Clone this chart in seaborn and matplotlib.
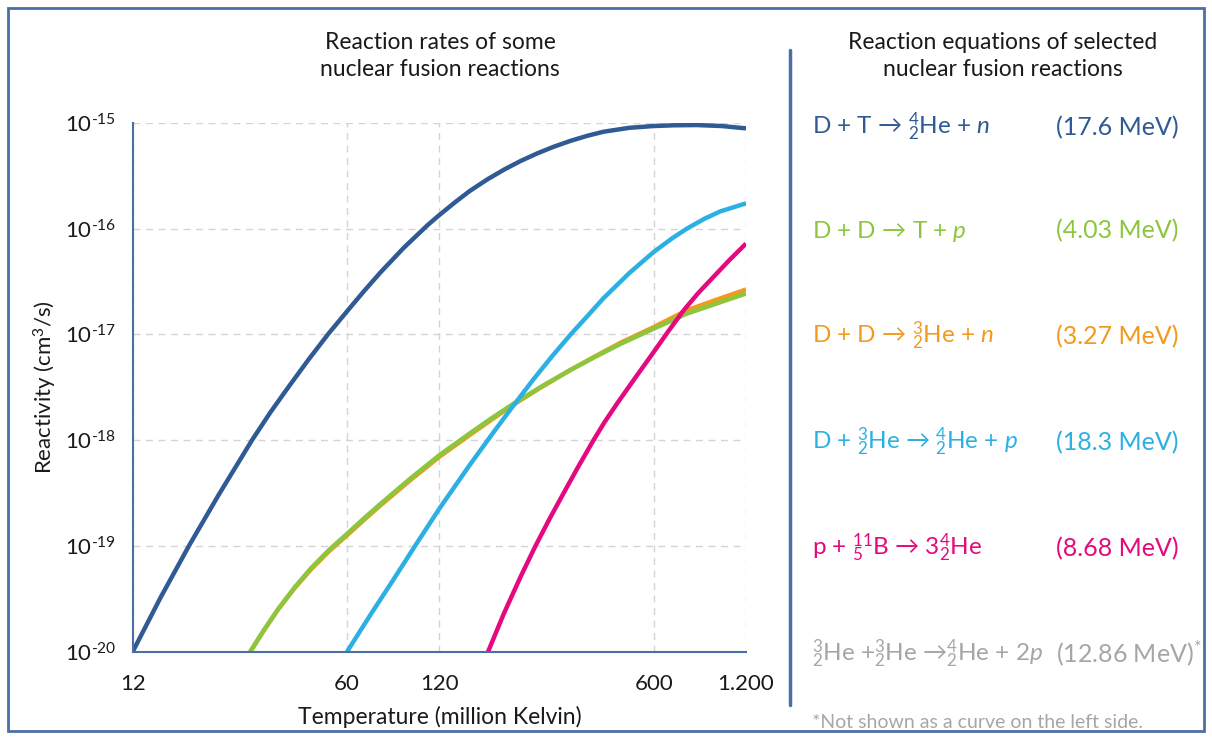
import matplotlib
matplotlib.use("Agg")
import numpy as np
import pandas as pd
import matplotlib.pyplot as plt
import seaborn as sns
from matplotlib.patches import Rectangle
from matplotlib.lines import Line2D

# Curve values (temperature in million K, reactivity in cm^3/s)
dt_temp = [12, 14.8, 18.3, 22.9, 29.4, 33.7, 38.6, 45, 52, 60, 68, 77.2, 92, 110, 120, 135, 151,
           172, 195, 221, 250, 283, 321, 364, 412, 500, 600, 700, 831, 1000, 1200]
dt_rate = [1e-20, 3.26e-20, 1e-19, 3.05e-19, 1e-18, 1.82e-18, 3.16e-18, 5.8e-18, 1e-17, 1.65e-17,
           2.54e-17, 3.86e-17, 6.6e-17, 1.08e-16, 1.34e-16, 1.77e-16, 2.27e-16, 2.91e-16, 3.6e-16,
           4.35e-16, 5.12e-16, 5.92e-16, 6.73e-16, 7.51e-16, 8.22e-16, 8.95e-16, 9.3e-16, 9.45e-16,
           9.5e-16, 9.3e-16, 8.84e-16]

ddp_temp = [29.0, 32, 35.8, 40.5, 45.9, 52.5, 60, 68, 77.2, 96.5, 120, 151, 176, 205, 256, 321,
            387, 467, 600, 771, 960, 1200]
ddp_rate = [1e-20, 1.57e-20, 2.54e-20, 4.06e-20, 6.2e-20, 9.2e-20, 1.3e-19, 1.81e-19, 2.5e-19,
            4.33e-19, 7.2e-19, 1.16e-18, 1.58e-18, 2.12e-18, 3.16e-18, 4.6e-18, 6.13e-18, 8.1e-18,
            1.13e-17, 1.57e-17, 1.95e-17, 2.43e-17]

ddn_temp = [29.0, 32, 35.8, 40.5, 45.9, 52.5, 60, 68, 77.2, 96.5, 120, 151, 176, 205, 256, 321,
            387, 467, 600, 771, 960, 1200]
ddn_rate = [1e-20, 1.56e-20, 2.52e-20, 4.0e-20, 6.05e-20, 8.95e-20, 1.26e-19, 1.75e-19, 2.42e-19,
            4.18e-19, 6.95e-19, 1.12e-18, 1.53e-18, 2.08e-18, 3.12e-18, 4.6e-18, 6.2e-18, 8.3e-18,
            1.17e-17, 1.69e-17, 2.12e-17, 2.65e-17]

dhe_temp = [60, 72, 85, 100, 120, 150, 178, 205, 243, 280, 321, 365, 412, 500, 600, 690, 771, 880,
            989, 1200]
dhe_rate = [1e-20, 2.3e-20, 4.8e-20, 1.0e-19, 2.25e-19, 5.7e-19, 1.13e-18, 1.96e-18, 3.74e-18,
            6.22e-18, 9.9e-18, 1.49e-17, 2.2e-17, 3.8e-17, 6.0e-17, 8.1e-17, 1e-16, 1.24e-16,
            1.45e-16, 1.73e-16]

pb_temp = [173, 195, 221, 247, 275, 305, 340, 382, 415, 456, 523, 600, 670, 752, 840, 941, 1060, 1200]
pb_rate = [1e-20, 2.31e-20, 5.13e-20, 1e-19, 1.82e-19, 3.15e-19, 5.56e-19, 1e-18, 1.48e-18,
           2.22e-18, 3.9e-18, 6.8e-18, 1.07e-17, 1.69e-17, 2.47e-17, 3.5e-17, 5.04e-17, 7.2e-17]

x_ticks = [12, 60, 120, 600, 1200]
x_tick_labels = ["12", "60", "120", "600", "1.200"]
y_ticks = [1e-20, 1e-19, 1e-18, 1e-17, 1e-16, 1e-15]
y_tick_labels = [r"10$^{\text{-20}}$", r"10$^{\text{-19}}$", r"10$^{\text{-18}}$",
                 r"10$^{\text{-17}}$", r"10$^{\text{-16}}$", r"10$^{\text{-15}}$"]

equations = [
    r"D + T → ${}^{4}_{2}$He + $\mathit{n}$",
    r"D + D → T + $\mathit{p}$",
    r"D + D → ${}^{3}_{2}$He + $\mathit{n}$",
    r"D + ${}^{3}_{2}$He → ${}^{4}_{2}$He + $\mathit{p}$",
    r"p + ${}^{11}_{5}$B → 3${}^{4}_{2}$He",
    r"${}^{3}_{2}$He +${}^{3}_{2}$He →${}^{4}_{2}$He + 2$\mathit{p}$",
]
energies = ["(17.6 MeV)", "(4.03 MeV)", "(3.27 MeV)", "(18.3 MeV)", "(8.68 MeV)", r"(12.86 MeV)$^{*}$"]

colors = {
    "DT": "#2f5a93",
    "DDp": "#8cc63e",
    "DDn": "#f39a1e",
    "DHe3": "#2cb0e3",
    "pB11": "#e4097f",
}
eq_colors = ["#2f5a93", "#8cc63e", "#f39a1e", "#2cb0e3", "#e4097f", "#a6a6a6"]
frame_blue = "#4a6fa5"

# long table for seaborn
df = pd.concat([
    pd.DataFrame({"Temperature": dt_temp, "Reactivity": dt_rate, "Reaction": "DT"}),
    pd.DataFrame({"Temperature": ddn_temp, "Reactivity": ddn_rate, "Reaction": "DDn"}),
    pd.DataFrame({"Temperature": ddp_temp, "Reactivity": ddp_rate, "Reaction": "DDp"}),
    pd.DataFrame({"Temperature": dhe_temp, "Reactivity": dhe_rate, "Reaction": "DHe3"}),
    pd.DataFrame({"Temperature": pb_temp, "Reactivity": pb_rate, "Reaction": "pB11"}),
], ignore_index=True)

sns.set_style("white")
plt.rcParams["font.family"] = ["Lato", "DejaVu Sans"]
plt.rcParams["mathtext.fontset"] = "custom"
plt.rcParams["mathtext.rm"] = "Lato"
plt.rcParams["mathtext.it"] = "Lato:italic"
plt.rcParams["mathtext.bf"] = "Lato:bold"

W, H = 1212, 738
fig = plt.figure(figsize=(W / 100, H / 100), dpi=100)
ax = fig.add_axes([132.7 / W, 1 - 651.7 / H, (746 - 132.7) / W, (651.7 - 122.7) / H])

sns.lineplot(data=df, x="Temperature", y="Reactivity", hue="Reaction",
             hue_order=["DT", "DDn", "DDp", "DHe3", "pB11"], palette=colors,
             linewidth=3.2, estimator=None, legend=False, ax=ax)
for ln in ax.get_lines():
    ln.set_solid_joinstyle("round")
    ln.set_solid_capstyle("butt")

ax.set_xscale("log")
ax.set_yscale("log")
ax.set_xlim(12, 1200)
ax.set_ylim(1e-20, 1e-15)
ax.minorticks_off()
ax.set_xticks(x_ticks)
ax.set_xticklabels(x_tick_labels)
ax.set_yticks(y_ticks)
ax.set_yticklabels(y_tick_labels)
ax.set_xlabel("")
ax.set_ylabel("")

ax.grid(True, linestyle=(0, (5, 4)), color="#d4d4d4", linewidth=1.0)
ax.set_axisbelow(True)
for s in ["top", "right"]:
    ax.spines[s].set_visible(False)
for s in ["left", "bottom"]:
    ax.spines[s].set_color(frame_blue)
    ax.spines[s].set_linewidth(1.5)
ax.tick_params(axis="x", direction="out", length=6, width=1.5, color=frame_blue,
               pad=10, labelsize=16, labelcolor="#1a1a1a")
ax.tick_params(axis="y", direction="out", length=9, width=1.5, color=frame_blue,
               pad=3, labelsize=16, labelcolor="#1a1a1a")

txt_kw = dict(color="#1a1a1a", fontsize=16.5)
fig.text(440 / W, 1 - 56 / H, "Reaction rates of some\nnuclear fusion reactions",
         ha="center", va="center", linespacing=1.3, **txt_kw)
fig.text(440 / W, 1 - 717 / H, "Temperature (million Kelvin)", ha="center", va="center", **txt_kw)
fig.text(45 / W, 1 - 387 / H, r"Reactivity (cm$^{3}$/s)", rotation=90,
         ha="center", va="center", color="#1a1a1a", fontsize=16)

# right panel
fig.text(1003 / W, 1 - 56 / H, "Reaction equations of selected\nnuclear fusion reactions",
         ha="center", va="center", linespacing=1.3, **txt_kw)
eq_base = [135, 238, 344, 450, 556, 662]
for eq, en, c, yy in zip(equations, energies, eq_colors, eq_base):
    fig.text(812 / W, 1 - yy / H, eq, color=c, fontsize=17.5, ha="left", va="baseline")
    fig.text(1056 / W, 1 - yy / H, en, color=c, fontsize=18, ha="left", va="baseline")
fig.text(812 / W, 1 - 728 / H, "*Not shown as a curve on the left side.",
         color="#a6a6a6", fontsize=14, ha="left", va="baseline")

fig.add_artist(Line2D([790 / W, 790 / W], [1 - 50 / H, 1 - 705 / H], color=frame_blue, lw=2.5))
fig.add_artist(Rectangle((8 / W, 7 / H), (W - 16) / W, (H - 15) / H, transform=fig.transFigure,
                         fill=False, edgecolor=frame_blue, linewidth=2))

fig.savefig("out.png", dpi=100)
